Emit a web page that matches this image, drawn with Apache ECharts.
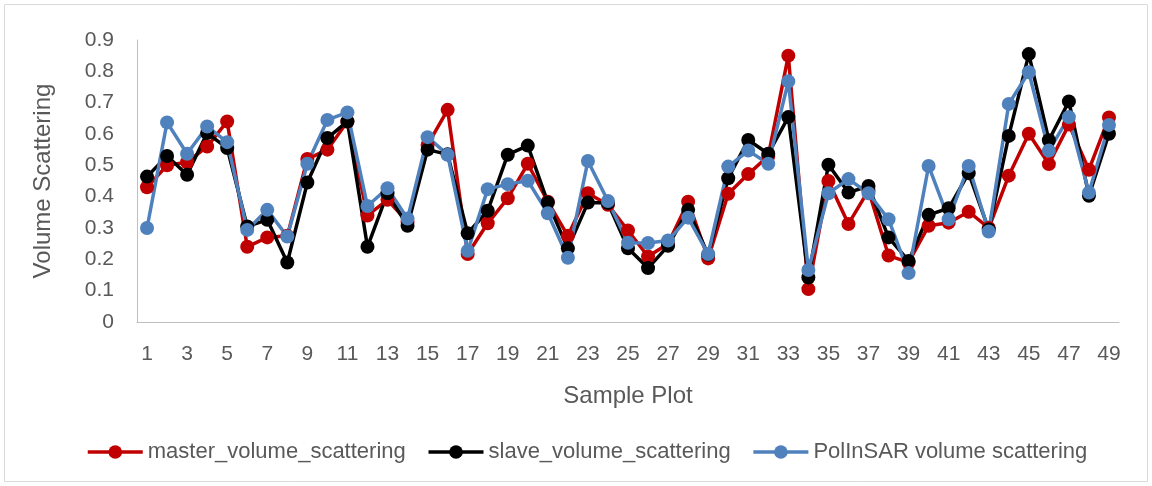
<!DOCTYPE html>
<html><head><meta charset="utf-8">
<script src="https://cdn.jsdelivr.net/npm/echarts@6/dist/echarts.min.js"></script>
<style>html,body{margin:0;padding:0;background:#fff}#c{width:1152px;height:486px}</style>
</head><body><div id="c"></div>
<script>
const categories = [];
for (let i = 1; i <= 49; i++) categories.push(String(i));
const masterValues = [0.43,0.50,0.51,0.56,0.64,0.24,0.27,0.275,0.52,0.55,0.64,0.34,0.39,0.32,0.565,0.677,0.217,0.315,0.395,0.505,0.384,0.275,0.411,0.374,0.292,0.209,0.25,0.384,0.203,0.409,0.472,0.53,0.85,0.105,0.45,0.313,0.42,0.212,0.19,0.307,0.317,0.352,0.30,0.467,0.601,0.504,0.63,0.486,0.653];
const slaveValues = [0.464,0.53,0.47,0.603,0.555,0.305,0.326,0.19,0.445,0.587,0.64,0.24,0.411,0.307,0.55,0.535,0.283,0.355,0.534,0.563,0.381,0.235,0.381,0.38,0.235,0.172,0.243,0.358,0.215,0.459,0.581,0.537,0.654,0.142,0.502,0.413,0.434,0.27,0.195,0.342,0.363,0.475,0.295,0.594,0.855,0.58,0.704,0.403,0.601];
const polinsarValues = [0.30,0.637,0.537,0.624,0.574,0.294,0.358,0.273,0.505,0.645,0.669,0.37,0.427,0.33,0.59,0.534,0.227,0.424,0.44,0.451,0.347,0.205,0.514,0.386,0.253,0.252,0.26,0.333,0.217,0.496,0.547,0.505,0.768,0.166,0.411,0.456,0.411,0.328,0.156,0.498,0.328,0.498,0.289,0.696,0.797,0.547,0.654,0.413,0.629];
const seriesNames = ['master_volume_scattering','slave_volume_scattering','PolInSAR volume scattering'];
const colors = ['#C00000','#000000','#4F81BD'];
const font = 'Liberation Sans';
const mk = (name, data, color) => ({
  name, type: 'line', data, color,
  symbol: 'circle', symbolSize: 14, showAllSymbol: true,
  lineStyle: {width: 3.5, color}, itemStyle: {color},
  animation: false
});
const chart = echarts.init(document.getElementById('c'));
chart.setOption({
  backgroundColor: '#fff',
  textStyle: {fontFamily: font},
  graphic: [{type:'rect', shape:{x:4.5,y:4.5,width:1143,height:477}, style:{fill:'none', stroke:'#D9D9D9', lineWidth:1}, silent:true}],
  grid: {left: 137, right: 33, top: 40, bottom: 164, containLabel: false},
  legend: {
    top: 436, left: 81, itemWidth: 55, itemHeight: 17, itemGap: 21,
    lineStyle: {width: 3.5},
    textStyle: {fontFamily: font, fontSize: 22, color: '#595959'},
    data: seriesNames
  },
  xAxis: {
    type: 'category', data: categories, boundaryGap: true,
    name: 'Sample Plot', nameLocation: 'middle', nameGap: 62,
    nameTextStyle: {fontFamily: font, fontSize: 24, color: '#595959'},
    axisLine: {lineStyle: {color: '#BFBFBF', width: 1}},
    axisTick: {show: false},
    axisLabel: {interval: 1, fontFamily: font, fontSize: 21, color: '#595959', margin: 22}
  },
  yAxis: {
    type: 'value', min: 0, max: 0.9, interval: 0.1,
    name: 'Volume Scattering', nameLocation: 'middle', nameGap: 82,
    nameTextStyle: {fontFamily: font, fontSize: 24, color: '#595959'},
    axisLine: {show: true, lineStyle: {color: '#BFBFBF', width: 1}},
    axisTick: {show: false},
    splitLine: {show: false},
    axisLabel: {fontFamily: font, fontSize: 21, color: '#595959', margin: 23,
      formatter: v => v === 0 ? '0' : v.toFixed(1)}
  },
  series: [
    mk(seriesNames[0], masterValues, colors[0]),
    mk(seriesNames[1], slaveValues, colors[1]),
    mk(seriesNames[2], polinsarValues, colors[2])
  ]
});
</script></body></html>
